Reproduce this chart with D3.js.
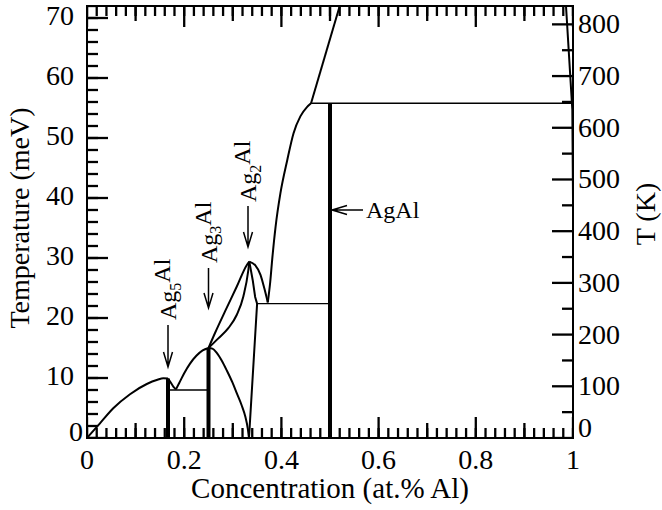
<!DOCTYPE html>
<html>
<head>
<meta charset="utf-8">
<script src="https://cdn.jsdelivr.net/npm/d3@7"></script>
<style>
  body { margin: 0; background: #fff; }
  svg text { font-family: "Liberation Serif", "Times New Roman", serif; fill: #000; }
</style>
</head>
<body>
<div id="phaseDiagram"></div>
<script>
// tick labels
var xMajor = [0, 0.2, 0.4, 0.6, 0.8, 1];
var yMajor = [0, 10, 20, 30, 40, 50, 60, 70];
var kMajor = [0, 100, 200, 300, 400, 500, 600, 700, 800];

// phase boundaries, [concentration, temperature meV]
var leftArc = [[0, 0], [0.0267, 2.45], [0.054, 4.95], [0.0885, 7.3], [0.123, 9.0], [0.145, 9.7], [0.157, 9.95], [0.1667, 9.9]];
var vLeft = [[0.1667, 9.9], [0.172, 9.3], [0.178, 8.5], [0.183, 8.1]];
var vRight = [[0.183, 8.1], [0.19, 9.2], [0.2, 10.8], [0.212, 12.4], [0.225, 13.7], [0.238, 14.6], [0.25, 15]];
var dropAg3 = [[0.25, 15], [0.258, 14.9], [0.267, 14.2], [0.278, 12.8], [0.288, 11.2], [0.299, 9.3], [0.309, 7.3], [0.318, 5.5], [0.326, 3.5], [0.331, 1.5], [0.3333, 0]];
var riseUpper = [[0.25, 15], [0.2634, 17.5], [0.284, 21.1], [0.308, 25.2], [0.3286, 28.8], [0.334, 29.4]];
var riseLower = [[0.25, 15], [0.2702, 16.6], [0.2908, 18.3], [0.308, 20.5], [0.3217, 23.6], [0.332, 28], [0.334, 29.4]];
var domeRight = [[0.334, 29.4], [0.346, 28.8], [0.357, 27.2], [0.365, 24.9], [0.372, 22.6]];
var innerRight = [[0.334, 29.4], [0.341, 26.3], [0.346, 23.5], [0.35, 22.4], [0.3333, 0]];
var liquidus = [[0.372, 22.6], [0.377, 26], [0.381, 29.7], [0.388, 35.2], [0.398, 40.8], [0.412, 46.3], [0.425, 50.8], [0.439, 53.6], [0.453, 55.2], [0.461, 55.8]];
var liquidusTop = [[0.461, 55.8], [0.52, 72]];
var rightEdge = [[0.9856, 72], [0.9986, 54.7], [1, 40]];

// horizontal lines: [from, to, T]
var tieLines = [[0.1667, 0.25, 8], [0.35, 0.5, 22.4], [0.461, 0.997, 55.8]];
// compound lines: [c, top T]
var compounds = [[1 / 6, 9.9], [0.25, 15], [0.5, 55.8]];

var meVtoK = 11.6045;

var margin = { top: 6, right: 89, bottom: 72, left: 87 };
var width = 662 - margin.left - margin.right;
var height = 510 - margin.top - margin.bottom;

var x = d3.scaleLinear().domain([0, 1]).range([0, width]);
var y = d3.scaleLinear().domain([0, 72]).range([height, 0]);
var yK = d3.scaleLinear().domain([0, 72 * meVtoK]).range([height, 0]);

var svg = d3.select("#phaseDiagram").append("svg")
  .attr("width", 662)
  .attr("height", 510)
  .append("g")
  .attr("transform", "translate(" + margin.left + "," + margin.top + ")");

svg.append("clipPath").attr("id", "plotClip")
  .append("rect").attr("width", width).attr("height", height);

var plot = svg.append("g").attr("clip-path", "url(#plotClip)");

var smooth = d3.line()
  .x(function (d) { return x(d[0]); })
  .y(function (d) { return y(d[1]); })
  .curve(d3.curveMonotoneX);

var straight = d3.line()
  .x(function (d) { return x(d[0]); })
  .y(function (d) { return y(d[1]); });

// ticks, all pointing inward
var xMinor = d3.range(0, 1.0001, 0.02);
var xMid = [0.1, 0.3, 0.5, 0.7, 0.9];
var yMinor = d3.range(0, 72.01, 2);
var kMinor = d3.range(50, 830, 100);
var tickWidth = 2.3;

var xTickSets = [[xMinor, 10], [xMid, 15], [xMajor, 21]];
xTickSets.forEach(function (set) {
  var len = set[1];
  plot.selectAll(null).data(set[0]).enter().append("line")
    .attr("x1", function (d) { return x(d); })
    .attr("x2", function (d) { return x(d); })
    .attr("y1", height)
    .attr("y2", height - len)
    .attr("stroke", "#000").attr("stroke-width", tickWidth);
  plot.selectAll(null).data(set[0]).enter().append("line")
    .attr("x1", function (d) { return x(d); })
    .attr("x2", function (d) { return x(d); })
    .attr("y1", 0)
    .attr("y2", len)
    .attr("stroke", "#000").attr("stroke-width", tickWidth);
});

var yTickSets = [[yMinor, y, 11, 0], [yMajor, y, 21, 0], [kMinor, yK, 11, width], [kMajor, yK, 21, width]];
yTickSets.forEach(function (set) {
  var sc = set[1], len = set[2], x0 = set[3];
  plot.selectAll(null).data(set[0]).enter().append("line")
    .attr("x1", x0)
    .attr("x2", x0 === 0 ? len : x0 - len)
    .attr("y1", function (d) { return sc(d); })
    .attr("y2", function (d) { return sc(d); })
    .attr("stroke", "#000").attr("stroke-width", tickWidth);
});

// thin tie lines
plot.selectAll(".tie").data(tieLines).enter().append("line")
  .attr("x1", function (d) { return x(d[0]); })
  .attr("x2", function (d) { return x(d[1]); })
  .attr("y1", function (d) { return y(d[2]); })
  .attr("y2", function (d) { return y(d[2]); })
  .attr("stroke", "#000").attr("stroke-width", 1.4);

[leftArc, vRight, dropAg3, riseUpper, riseLower, domeRight, liquidus].forEach(function (d) {
  plot.append("path").datum(d).attr("d", smooth)
    .attr("fill", "none").attr("stroke", "#000").attr("stroke-width", 2);
});
[vLeft, innerRight, liquidusTop, rightEdge].forEach(function (d) {
  plot.append("path").datum(d).attr("d", straight)
    .attr("fill", "none").attr("stroke", "#000").attr("stroke-width", 2);
});

// compound lines
plot.selectAll(".bar").data(compounds).enter().append("line")
  .attr("x1", function (d) { return x(d[0]); })
  .attr("x2", function (d) { return x(d[0]); })
  .attr("y1", y(0))
  .attr("y2", function (d) { return y(d[1]); })
  .attr("stroke", "#000").attr("stroke-width", 4);

// tick labels
svg.append("g").selectAll("text").data(xMajor).enter().append("text")
  .attr("x", function (d) { return x(d); })
  .attr("y", height + 31)
  .attr("text-anchor", "middle").style("font-size", "28px")
  .text(function (d) { return d3.format("")(d); });

svg.append("g").selectAll("text").data(yMajor).enter().append("text")
  .attr("x", function (d) { return d === 0 ? -4 : -13; })
  .attr("y", function (d) { return y(d) + (d === 0 ? 3 : 7); })
  .attr("text-anchor", "end").style("font-size", "28px")
  .text(function (d) { return d; });

svg.append("g").selectAll("text").data(kMajor).enter().append("text")
  .attr("x", width + 5)
  .attr("y", function (d) { return yK(d) + (d === 0 ? -1 : 9); })
  .style("font-size", "28px")
  .text(function (d) { return d; });

// frame
svg.append("rect")
  .attr("width", width).attr("height", height)
  .attr("fill", "none").attr("stroke", "#000").attr("stroke-width", 2);

// titles
svg.append("text")
  .attr("x", width / 2).attr("y", height + 60)
  .attr("text-anchor", "middle").style("font-size", "29px")
  .text("Concentration (at.% Al)");

svg.append("text")
  .attr("transform", "translate(" + (29 - margin.left) + "," + (height / 2 - 4) + ") rotate(-90)")
  .attr("text-anchor", "middle").style("font-size", "28px")
  .text("Temperature (meV)");

svg.append("text")
  .attr("transform", "translate(" + (width + 82) + "," + (height / 2 - 8) + ") rotate(-90)")
  .attr("text-anchor", "middle").style("font-size", "28px")
  .text("T (K)");

// compound labels with arrows
var labels = [
  { sub: "5", c: 1 / 6, textStart: 320, a0: 325, a1: 367 },
  { sub: "3", c: 0.25, textStart: 263, a0: 268, a1: 308 },
  { sub: "2", c: 1 / 3, textStart: 202, a0: 206, a1: 247 }
];

labels.forEach(function (l) {
  var px = x(l.c) + (l.c === 1 / 3 ? -1 : 0);
  var t = svg.append("text")
    .attr("transform", "translate(" + (px + 8) + "," + (l.textStart - margin.top) + ") rotate(-90)")
    .style("font-size", "24px");
  t.append("tspan").text("Ag");
  t.append("tspan").attr("dy", "0.3em").style("font-size", "16px").text(l.sub);
  t.append("tspan").attr("dy", "-0.45em").text("Al");

  svg.append("path")
    .attr("d", "M" + px + "," + (l.a0 - margin.top) + "V" + (l.a1 - margin.top) +
      "M" + (px - 4.5) + "," + (l.a1 - margin.top - 15) + "L" + px + "," + (l.a1 - margin.top) +
      "L" + (px + 4.5) + "," + (l.a1 - margin.top - 15))
    .attr("fill", "none").attr("stroke", "#000").attr("stroke-width", 1.5);
});

var agalX = x(0.5) + 2;
var agalY = 210 - margin.top;
svg.append("path")
  .attr("d", "M" + (agalX + 31) + "," + agalY + "H" + agalX +
    "M" + (agalX + 15) + "," + (agalY - 4.5) + "L" + agalX + "," + agalY + "L" + (agalX + 15) + "," + (agalY + 4.5))
  .attr("fill", "none").attr("stroke", "#000").attr("stroke-width", 1.5);
svg.append("text")
  .attr("x", agalX + 34).attr("y", agalY + 8)
  .style("font-size", "24px")
  .text("AgAl");
</script>
</body>
</html>
